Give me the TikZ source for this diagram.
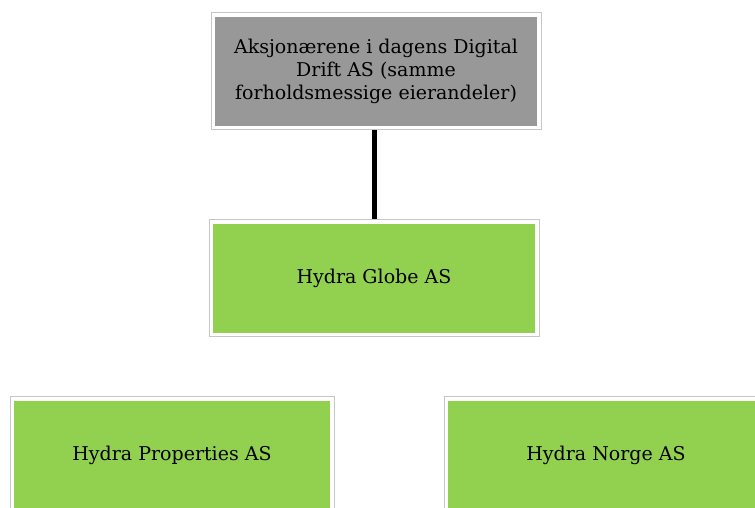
\documentclass[tikz,border=0pt]{standalone}
\usepackage{fontspec}
\setmainfont{DejaVu Serif}
\usepackage{tikz}
\tikzset{>=latex}
\definecolor{framegray}{HTML}{C6C6C6}
\definecolor{ownergray}{HTML}{989898}
\definecolor{hydragreen}{HTML}{92D050}
\tikzset{
	company/.style={draw=framegray, fill=white, line width=1pt, inner sep=0pt,
		minimum width=330pt, minimum height=117pt, align=center,
		font=\fontsize{19}{23}\selectfont,
		path picture={\fill[#1]([shift={(4pt, 4pt)}]path picture bounding box.south west)rectangle([shift={(-4pt, -4pt)}]path picture bounding box.north east);}}
}

\begin{document}
\begin{tikzpicture}[x=1pt, y=-1pt]
	\clip(0, 0)rectangle(755, 507);
	\node[company=ownergray](owners)at(376, 71){Aksjonærene i dagens Digital\\Drift AS (samme\\forholdsmessige eierandeler)};
	\node[company=hydragreen](globe)at(374, 278){Hydra Globe AS};
	\node[company=hydragreen, minimum width=324pt](properties)at(172, 455){Hydra Properties AS};
	\node[company=hydragreen, minimum width=324pt](norge)at(606, 455){Hydra Norge AS};
	\draw[line width=5pt](globe.north)--(globe.north|-owners.south);
\end{tikzpicture}
\end{document}
